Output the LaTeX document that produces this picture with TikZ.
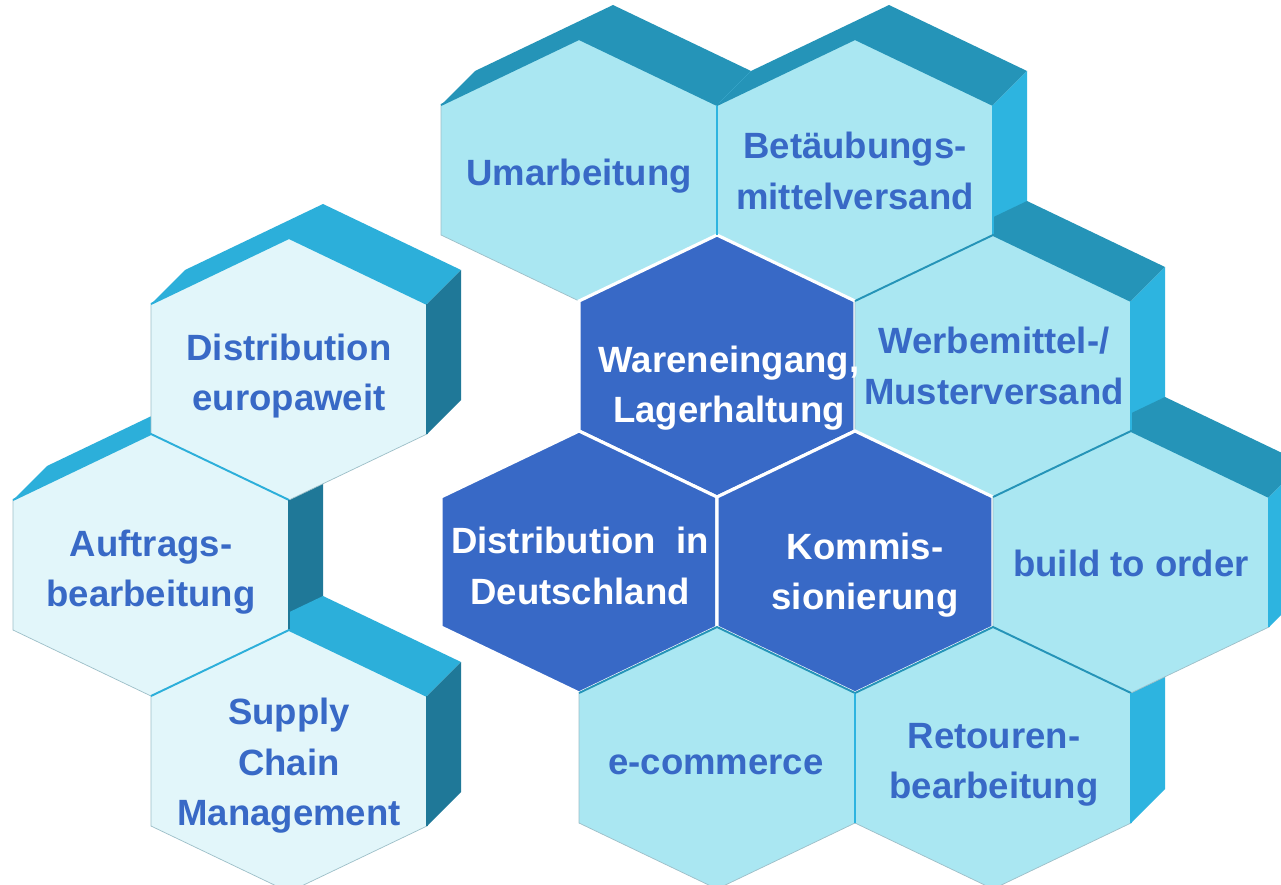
\documentclass[tikz,border=0pt]{standalone}
\usepackage{fontspec}
\setmainfont{Liberation Sans}
\usepackage{tikz}
\definecolor{hexlight}{HTML}{AAE7F2}
\definecolor{hexpale}{HTML}{E2F6FA}
\definecolor{hexdark}{HTML}{3869C6}
\definecolor{hexedge}{HTML}{9DBFC8}
\definecolor{ltop}{HTML}{2CAFDA}
\definecolor{lside}{HTML}{1F7898}
\definecolor{rtop}{HTML}{2594B8}
\definecolor{rside}{HTML}{2DB4E0}

\begin{document}
\begin{tikzpicture}[x=0.02cm, y=-0.02cm,
  lbl/.style={font=\fontsize{20.8}{28.7}\selectfont\bfseries, text=hexdark, align=center, inner sep=0pt},
  lbldark/.style={lbl, text=white}]

% ---- Canvas ----
\useasboundingbox (0,0) rectangle (1281,885);
\fill[white] (0,0) rectangle (1281,885);
\clip (0,0) rectangle (1281,885);

% ---- Extruded top and side faces (row by row) ----
\foreach \cx/\cy/\tc/\sc in {
  289/369/ltop/lside, 151/565/ltop/lside, 289/761/ltop/lside,
  579/170/rtop/rside, 855/170/rtop/rside, 993/366/rtop/rside,
  1131/562/rtop/rside, 717/758/rtop/rside, 993/758/rtop/rside}{
  \fill[\tc] (\cx-138,\cy-65) -- (\cx,\cy-131) -- (\cx+138,\cy-65) -- (\cx+172,\cy-99) -- (\cx+34,\cy-165) -- (\cx-104,\cy-99) -- cycle;
  \fill[\sc] (\cx+138,\cy-65) -- (\cx+172,\cy-99) -- (\cx+172,\cy+31) -- (\cx+138,\cy+65) -- cycle;
}

% ---- Front faces ----
% left group pale, right group light, centre dark with white seams
\foreach \cx/\cy/\fc/\ec/\lw in {
  289/369/hexpale/hexedge/0.4pt, 151/565/hexpale/hexedge/0.4pt, 289/761/hexpale/hexedge/0.4pt,
  579/170/hexlight/hexedge/0.4pt, 855/170/hexlight/hexedge/0.4pt,
  717/366/hexdark/white/1.8pt, 993/366/hexlight/hexedge/0.4pt,
  579/562/hexdark/white/1.8pt, 855/562/hexdark/white/1.8pt, 1131/562/hexlight/hexedge/0.4pt,
  717/758/hexlight/hexedge/0.4pt, 993/758/hexlight/hexedge/0.4pt}{
  \filldraw[fill=\fc, draw=\ec, line width=\lw] (\cx-138,\cy-65) -- (\cx,\cy-131) -- (\cx+138,\cy-65) -- (\cx+138,\cy+65) -- (\cx,\cy+131) -- (\cx-138,\cy+65) -- cycle;
}

% ---- Slivers of the extrusion along upper and right edges ----
\foreach \cx/\cy/\tc/\sc in {
  289/369/ltop/lside, 151/565/ltop/lside, 289/761/ltop/lside,
  579/170/rtop/rside, 855/170/rtop/rside, 993/366/rtop/rside,
  1131/562/rtop/rside, 717/758/rtop/rside, 993/758/rtop/rside}{
  \draw[\tc, line width=1.1pt] (\cx-138,\cy-65) -- (\cx,\cy-131) -- (\cx+138,\cy-65);
  \draw[\sc, line width=1.1pt] (\cx+138,\cy-65) -- (\cx+138,\cy+65);
}

% ---- Labels ----
\node[lbl] (disteu) at (289,376) {Distribution\\europaweit};
\node[lbl] (auftrag) at (151,572) {Auftrags-\\bearbeitung};
\node[lbl] (supply) at (289,766) {Supply\\Chain\\Management};

\node[lbl] (umarb) at (579,176) {Umarbeitung};
\node[lbl] (betaeub) at (855,171) {Betäubungs-\\mittelversand};
\node[lbldark] (waren) at (729,388) {Wareneingang,\\Lagerhaltung};
\node[lbl] (werbe) at (994,366) {Werbemittel-/\\Musterversand};
\node[lbldark] (distde) at (580,566) {Distribution\ \ in\\Deutschland};
\node[lbldark] (kommis) at (865,575) {Kommis-\\sionierung};
\node[lbl] (build) at (1131,563) {build to order};
\node[lbl] (ecom) at (716,765) {e-commerce};
\node[lbl] (retour) at (994,765) {Retouren-\\bearbeitung};

\end{tikzpicture}
\end{document}
